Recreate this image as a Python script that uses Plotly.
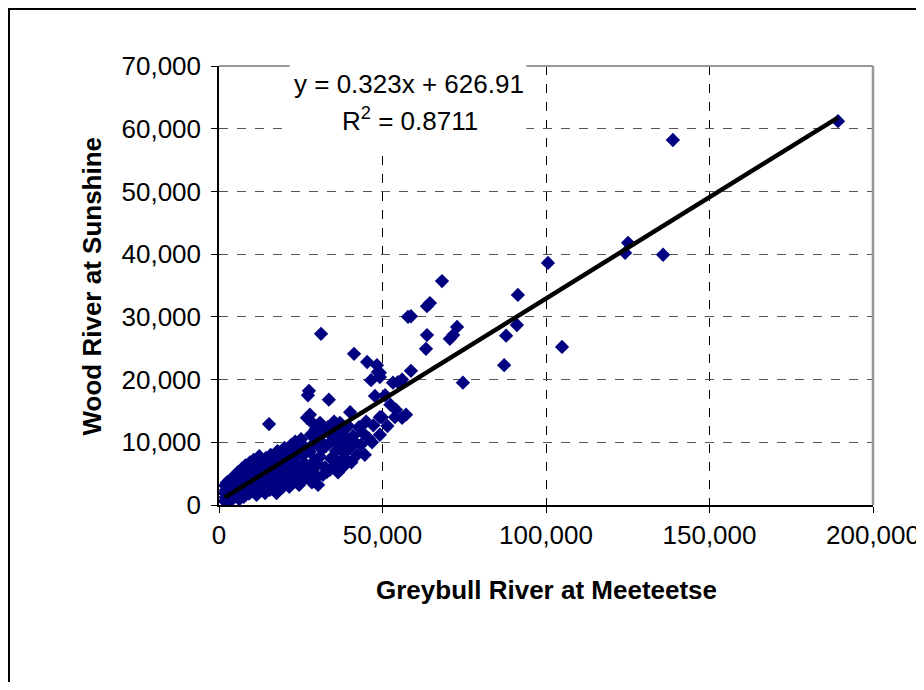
import plotly.graph_objects as go

# Data values (flow volumes)
greybull_x = [
    1800, 1800, 1900, 2000, 2100, 2300, 2400, 2700, 3000, 3300, 3600, 3800, 4100, 4400, 4700, 4900,
    5200, 5400, 5700, 6000, 6200, 6500, 6800, 7000, 7300, 7600, 7900, 8100, 8400, 8700, 9000, 9200, 9500, 9800,
    10100, 10400, 10600, 10900, 11200, 11500, 11800, 12100, 12300, 12600, 12900, 13200, 13500, 13800, 14100, 14400, 14700, 15000,
    15300,
    15600, 15800, 16100, 16400, 16700, 17000, 17300, 17600, 17900, 18200, 18500, 18800, 19100, 19400, 19700, 20000,
    20300, 20600, 20900, 21200, 21500, 21800, 22100, 22400, 22700, 23000, 23300, 23600, 23900, 24200, 24500, 24800,
    25100, 25400, 25700, 26000, 26300, 26600, 26900, 26900, 27200, 27500, 27800, 27800, 28100, 28400, 28700, 28700, 29000, 29300, 29600, 29900,
    30200, 30300, 30600, 30900, 30900, 31200, 31500, 31800, 32100, 32400, 32700, 33000, 33300, 33600, 33900, 33900, 34200, 34500, 34900,
    35200, 35500, 35800, 36100, 36400, 36700, 37000, 37000, 37300, 37600, 38000, 38300, 38700, 39100, 39500, 39800,
    40100, 40500, 41000, 41300, 41600, 42200, 42800, 43400, 44000, 44600, 45000, 45300, 45800, 46500, 46800, 47200, 47700, 48300, 48600, 49200, 49200, 49200, 49200, 49800,
    50800, 51500, 52400, 53200, 53800, 54100, 54700, 55400, 56000, 56000, 57200, 57800, 58700, 58700,
    63300, 63600, 63600, 64500, 68200, 70600, 71600, 72800, 74600, 87200, 87800, 91100, 91400, 100600, 104900,
    124200, 125100, 135800, 138800, 189300,
]
wood_y = [
    600, 1900, 3100, 1200, 2400, 900, 3600, 1800, 2900, 700, 4100, 2000, 3200, 1100, 4600, 2500,
    3700, 1500, 5200, 2800, 900, 4300, 2000, 5800, 3400, 1300, 4900, 6300, 2600, 3900, 5500, 1800, 6800, 3100,
    4500, 2200, 7200, 5700, 3500, 1600, 6400, 4200, 7800, 2700, 5100, 3300, 6900, 4600, 1900, 7500, 3800, 5900,
    12900,
    2400, 8000, 4300, 6500, 3000, 7300, 5000, 1900, 8600, 3700, 6000, 4600, 7900, 2800, 5500, 9100,
    3900, 6900, 4800, 8400, 2900, 6100, 9600, 5300, 3600, 7600, 10100, 4500, 6600, 8800, 3200, 5800,
    10500, 5900, 7900, 4200, 9200, 6400, 5100, 13900, 17500, 18200, 8500, 14400, 11200, 3600, 5600, 13000, 9800, 7100, 12100, 4500,
    6600, 3200, 10400, 13100, 7700, 27300, 8900, 4800, 11600, 6000, 9400, 5300, 12400, 16800, 5600, 9900, 7400, 11000, 7500,
    13300, 6300, 8600, 10600, 5200, 12000, 9300, 13100, 7000, 11400, 6100, 8300, 10200, 7200, 12600, 9000,
    14800, 6800, 11000, 24100, 10000, 8000, 12400, 9600, 11500, 8000, 13300, 22800, 10600, 19900, 10000, 12700, 17400, 22300, 21200, 14000, 11200, 20400, 21100, 14000,
    17500, 12600, 16000, 19500, 14000, 15200, 19600, 19500, 13900, 20000, 14400, 30000, 21400, 30100,
    24900, 27100, 31700, 32200, 35700, 26500, 27100, 28400, 19500, 22300, 27000, 28700, 33500, 38600, 25200,
    40200, 41800, 39900, 58200, 61200,
]

# Trendline coefficients (as printed on the chart)
slope = 0.323
intercept = 626.91
eq_text = "y = 0.323x + 626.91"
r2_text = "R<sup>2</sup> = 0.8711"

x_ticks = [0, 50000, 100000, 150000, 200000]
y_ticks = [0, 10000, 20000, 30000, 40000, 50000, 60000, 70000]

line_x = [min(greybull_x), max(greybull_x)]
line_y = [slope * v + intercept for v in line_x]

FONT = "Liberation Sans, Arial, sans-serif"

fig = go.Figure()
fig.add_trace(go.Scatter(
    x=greybull_x, y=wood_y, mode="markers",
    marker=dict(symbol="diamond", size=11, color="#000080", line=dict(width=0)),
    showlegend=False, hoverinfo="skip",
))
fig.add_trace(go.Scatter(
    x=line_x, y=line_y, mode="lines",
    line=dict(color="black", width=4.5),
    showlegend=False, hoverinfo="skip",
))

fig.update_layout(
    width=924, height=674,
    margin=dict(l=211, r=59, t=58, b=177),
    paper_bgcolor="white", plot_bgcolor="white",
    font=dict(family=FONT, size=26, color="black"),
    xaxis=dict(
        range=[0, 200000], tickvals=x_ticks, tickformat=",d", automargin=False,
        showgrid=True, gridcolor="black", griddash="dash", gridwidth=1,
        showline=True, linecolor="black", linewidth=1.5, zeroline=False,
        ticks="outside", ticklen=6, tickcolor="black", tickwidth=1,
        tickfont=dict(family=FONT, size=26, color="black"),
        ticklabeloverflow="allow",
    ),
    yaxis=dict(
        range=[0, 70000], tickvals=y_ticks, tickformat=",d", automargin=False,
        showgrid=True, gridcolor="#555555", griddash="dash", gridwidth=1,
        showline=True, linecolor="black", linewidth=1.5, zeroline=False,
        ticks="outside", ticklen=6, tickcolor="black", tickwidth=1,
        tickfont=dict(family=FONT, size=26, color="black"),
        ticklabelstandoff=5,
    ),
    shapes=[
        # plot area frame (top & right, gray)
        dict(type="line", xref="paper", yref="paper", x0=0, x1=1, y0=1, y1=1,
             line=dict(color="#999999", width=2), layer="above"),
        dict(type="line", xref="paper", yref="paper", x0=1, x1=1, y0=0, y1=1,
             line=dict(color="#999999", width=2.5), layer="above"),
        # white box behind equation
        dict(type="rect", xref="paper", yref="paper", x0=0.108, x1=0.47, y0=0.805, y1=1.005,
             fillcolor="white", line=dict(width=0), layer="above"),
        # outer chart border
        dict(type="rect", xref="paper", yref="paper", x0=-0.3211, x1=1.2, y0=-0.6, y1=1.1298,
             fillcolor="rgba(0,0,0,0)", line=dict(color="black", width=2), layer="above"),
    ],
    annotations=[
        dict(text=eq_text, xref="paper", yref="paper", x=0.2898, y=0.958,
             showarrow=False, xanchor="center", yanchor="middle",
             font=dict(family=FONT, size=26, color="black")),
        dict(text=r2_text, xref="paper", yref="paper", x=0.292, y=0.877,
             showarrow=False, xanchor="center", yanchor="middle",
             font=dict(family=FONT, size=26, color="black")),
        dict(text="<b>Greybull River at Meeteetse</b>", xref="paper", yref="paper",
             x=0.5, y=-0.1936, showarrow=False, xanchor="center", yanchor="middle",
             font=dict(family=FONT, size=26, color="black")),
        dict(text="<b>Wood River at Sunshine</b>", xref="paper", yref="paper",
             x=-0.1942, y=0.5, showarrow=False, xanchor="center", yanchor="middle",
             textangle=-90, font=dict(family=FONT, size=26, color="black")),
    ],
)

fig.write_html("out.html")
